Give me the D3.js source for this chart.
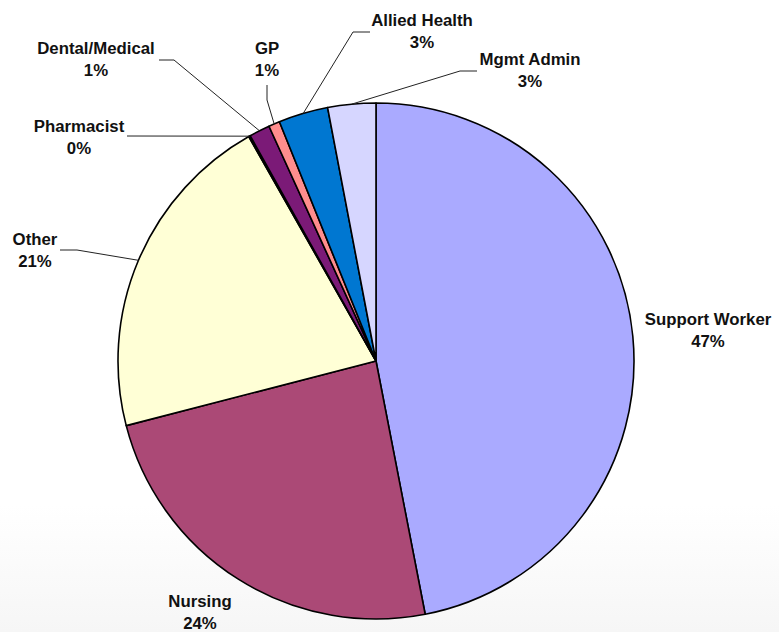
<!DOCTYPE html>
<html>
<head>
<meta charset="utf-8">
<script src="https://cdn.jsdelivr.net/npm/d3@7"></script>
<style>
  html, body { margin: 0; padding: 0; background: #fff; }
  svg { display: block; }
  text { font-family: "Liberation Sans", Arial, sans-serif; font-weight: bold; font-size: 16.8px; fill: #111; }
</style>
</head>
<body>
<svg id="chart" width="779" height="632"></svg>
<script>
// Data (clockwise from 12 o'clock)
const categories = ["Support Worker", "Nursing", "Other", "Pharmacist", "Dental/Medical", "GP", "Allied Health", "Mgmt Admin"];
const values     = [46.9, 24.0, 20.8, 0.1, 1.3, 0.7, 3.1, 3.0];
const pctLabels  = ["47%", "24%", "21%", "0%", "1%", "1%", "3%", "3%"];
const colors     = ["#aaaaff", "#ab4976", "#ffffd6", "#ccffff", "#7b1a77", "#ff8d8d", "#0077d1", "#d6d6ff"];

// label layout: text anchor centre, first-line baseline, leader elbow (or null)
const labelPos = [
  {x: 708, y: 325, elbow: null, end: null},
  {x: 200, y: 607, elbow: null, end: null},
  {x: 35,  y: 245, elbow: [77, 250], end: [60, 250]},
  {x: 79,  y: 132, elbow: [127, 136], end: [127, 136]},
  {x: 96,  y: 54,  elbow: [174, 60], end: [159, 60]},
  {x: 267, y: 54,  elbow: [267, 100], end: [267, 85]},
  {x: 422, y: 26,  elbow: [353, 32], end: [370, 32]},
  {x: 530, y: 65,  elbow: [460, 71], end: [477, 71]}
];

const W = 779, H = 632;
const cx = 376, cy = 361, R = 258;

const svg = d3.select("#chart");
const defs = svg.append("defs");
const grad = defs.append("linearGradient").attr("id", "bg").attr("x1", 0).attr("y1", 0).attr("x2", 0).attr("y2", 1);
grad.append("stop").attr("offset", "0%").attr("stop-color", "#ffffff");
grad.append("stop").attr("offset", "80%").attr("stop-color", "#ffffff");
grad.append("stop").attr("offset", "100%").attr("stop-color", "#f6f6f6");
svg.append("rect").attr("width", W).attr("height", H).attr("fill", "url(#bg)");

const data = categories.map((c, i) => ({cat: c, value: values[i], pct: pctLabels[i], color: colors[i], pos: labelPos[i]}));

const pie = d3.pie().value(d => d.value).sort(null);
const arcs = pie(data);
const arc = d3.arc().innerRadius(0).outerRadius(R);

const g = svg.append("g").attr("transform", `translate(${cx},${cy})`);
g.selectAll("path.slice").data(arcs).join("path")
  .attr("class", "slice")
  .attr("d", arc)
  .attr("fill", d => d.data.color)
  .attr("stroke", "#000")
  .attr("stroke-width", 1.6)
  .attr("stroke-linejoin", "round");

// leader lines
const pointOn = (a) => {
  const m = (a.startAngle + a.endAngle) / 2;
  return [cx + R * Math.sin(m), cy - R * Math.cos(m)];
};
svg.selectAll("polyline.leader").data(arcs.filter(a => a.data.pos.elbow)).join("polyline")
  .attr("class", "leader")
  .attr("points", a => {
    const p = pointOn(a);
    const e = a.data.pos.elbow, t = a.data.pos.end;
    return [t, e, p].map(q => q.join(",")).join(" ");
  })
  .attr("fill", "none")
  .attr("stroke", "#222")
  .attr("stroke-width", 1);

// labels
const lbl = svg.selectAll("text.lbl").data(arcs).join("text")
  .attr("class", "lbl")
  .attr("text-anchor", "middle")
  .attr("x", a => a.data.pos.x)
  .attr("y", a => a.data.pos.y);
lbl.append("tspan").attr("x", a => a.data.pos.x).text(a => a.data.cat);
lbl.append("tspan").attr("x", a => a.data.pos.x).attr("dy", 22).text(a => a.data.pct);
</script>
</body>
</html>
